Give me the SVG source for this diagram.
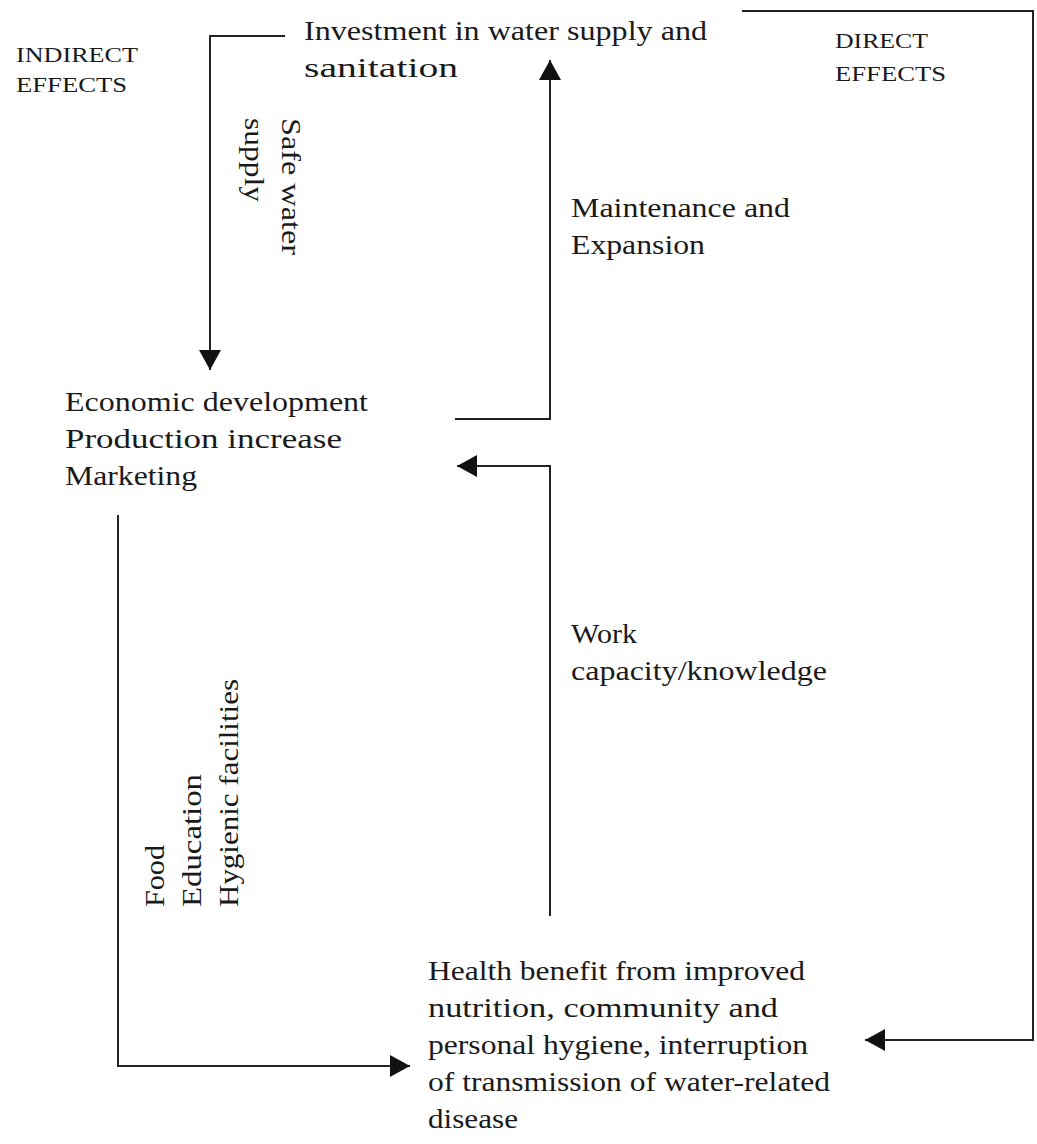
<svg xmlns="http://www.w3.org/2000/svg" width="1037" height="1144" viewBox="0 0 1037 1144">
<style>
.t{font-family:"Liberation Serif","Times New Roman",serif;font-size:27px;fill:#1a1a1a}
.s{font-family:"Liberation Serif","Times New Roman",serif;font-size:22px;fill:#1a1a1a}
.c{fill:none;stroke:#222;stroke-width:2}
</style>
<defs>
<marker id="ah" markerWidth="20" markerHeight="22" refX="20" refY="11" orient="auto" markerUnits="userSpaceOnUse">
<path d="M0,0 L20,11 L0,22 Z" fill="#111"/>
</marker>
</defs>
<rect width="1037" height="1144" fill="#fff"/>
<g id="label-indirect"><text class="s" x="16" y="62" textLength="122" lengthAdjust="spacingAndGlyphs">INDIRECT</text><text class="s" x="16" y="92" textLength="111" lengthAdjust="spacingAndGlyphs">EFFECTS</text></g>
<g id="label-direct"><text class="s" x="835" y="48" textLength="93" lengthAdjust="spacingAndGlyphs">DIRECT</text><text class="s" x="835" y="81" textLength="111" lengthAdjust="spacingAndGlyphs">EFFECTS</text></g>
<g id="node-investment"><text class="t" x="304" y="40" textLength="403" lengthAdjust="spacingAndGlyphs">Investment in water supply and</text><text class="t" x="304" y="77" textLength="154" lengthAdjust="spacingAndGlyphs">sanitation</text></g>
<g id="node-economic"><text class="t" x="65" y="411" textLength="303" lengthAdjust="spacingAndGlyphs">Economic development</text><text class="t" x="65" y="448" textLength="277" lengthAdjust="spacingAndGlyphs">Production increase</text><text class="t" x="65" y="485" textLength="132" lengthAdjust="spacingAndGlyphs">Marketing</text></g>
<g id="node-health"><text class="t" x="428" y="980" textLength="377" lengthAdjust="spacingAndGlyphs">Health benefit from improved</text><text class="t" x="428" y="1017" textLength="350" lengthAdjust="spacingAndGlyphs">nutrition, community and</text><text class="t" x="428" y="1054" textLength="380" lengthAdjust="spacingAndGlyphs">personal hygiene, interruption</text><text class="t" x="428" y="1091" textLength="402" lengthAdjust="spacingAndGlyphs">of transmission of water-related</text><text class="t" x="428" y="1128" textLength="90" lengthAdjust="spacingAndGlyphs">disease</text></g>
<g id="connectors">
<path class="c" d="M285,36 H210 V370" marker-end="url(#ah)"/>
<path class="c" d="M455,419 H550 V60" marker-end="url(#ah)"/>
<path class="c" d="M550,916 V466 H457" marker-end="url(#ah)"/>
<path class="c" d="M118,515 V1066 H410" marker-end="url(#ah)"/>
<path class="c" d="M742,11 H1033 V1040 H865" marker-end="url(#ah)"/>
</g>
<g id="connector-labels">
<text class="t" transform="translate(282,118) rotate(90)" textLength="137" lengthAdjust="spacingAndGlyphs">Safe water</text>
<text class="t" transform="translate(245,118) rotate(90)" textLength="84" lengthAdjust="spacingAndGlyphs">supply</text>
<text class="t" x="571" y="217" textLength="219" lengthAdjust="spacingAndGlyphs">Maintenance and</text>
<text class="t" x="571" y="254" textLength="134" lengthAdjust="spacingAndGlyphs">Expansion</text>
<text class="t" x="571" y="643" textLength="66" lengthAdjust="spacingAndGlyphs">Work</text>
<text class="t" x="571" y="680" textLength="256" lengthAdjust="spacingAndGlyphs">capacity/knowledge</text>
<text class="t" transform="translate(164,907) rotate(-90)" textLength="62" lengthAdjust="spacingAndGlyphs">Food</text>
<text class="t" transform="translate(201,907) rotate(-90)" textLength="133" lengthAdjust="spacingAndGlyphs">Education</text>
<text class="t" transform="translate(238,907) rotate(-90)" textLength="228" lengthAdjust="spacingAndGlyphs">Hygienic facilities</text>
</g>
</svg>
